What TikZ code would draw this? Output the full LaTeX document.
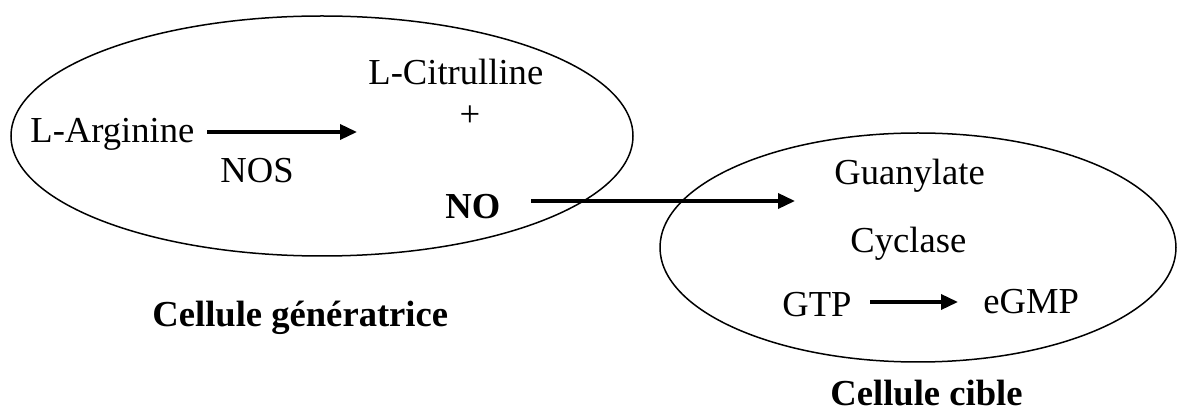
\documentclass[tikz,border=0pt]{standalone}
\usepackage{fontspec}
\setmainfont{Liberation Serif}
\usetikzlibrary{shapes.geometric,arrows.meta}
\begin{document}
\begin{tikzpicture}[x=0.5pt,y=-0.5pt,
  cell/.style={ellipse, draw, line width=0.75pt, inner sep=0pt},
  lbl/.style={inner sep=0pt, anchor=base west, font=\fontsize{18.3}{22}\selectfont},
  blbl/.style={lbl, font=\fontsize{18.3}{22}\selectfont\bfseries},
  arr/.style={line width=1.75pt, -{Triangle[length=8.5pt,width=7.5pt]}}]
\useasboundingbox (0,0) rectangle (1179,411);
% cells
\node[cell, minimum width=311pt, minimum height=120pt] (gen) at (322,136) {};
\node[cell, minimum width=258pt, minimum height=114.5pt] (cib) at (918,247.5) {};
% texts
\node[lbl] (arg) at (30,143) {L-Arginine};
\node[lbl] (nos) at (220,183) {NOS};
\node[lbl] (cit) at (368,85) {L-Citrulline};
\node[lbl, anchor=base] (plus) at (470,127) {+};
\node[blbl] (no) at (445,219) {NO};
\node[lbl] (guan) at (834,185) {Guanylate};
\node[lbl] (cyc) at (850,253) {Cyclase};
\node[lbl] (gtp) at (782,317) {GTP};
\node[lbl] (cgmp) at (983,314) {eGMP};
\node[blbl] (tgen) at (152,327) {Cellule génératrice};
\node[blbl] (tcib) at (830,406) {Cellule cible};
% arrow end points
\coordinate (a1s) at (207,132);
\coordinate (a1e) at (357,132);
\coordinate (a2s) at (531,201);
\coordinate (a2e) at (795,201);
\coordinate (a3s) at (870,302);
\coordinate (a3e) at (958,302);
\draw[arr] (a1s) -- (a1e);
\draw[arr] (a2s) -- (a2e);
\draw[arr] (a3s) -- (a3e);
\end{tikzpicture}
\end{document}
